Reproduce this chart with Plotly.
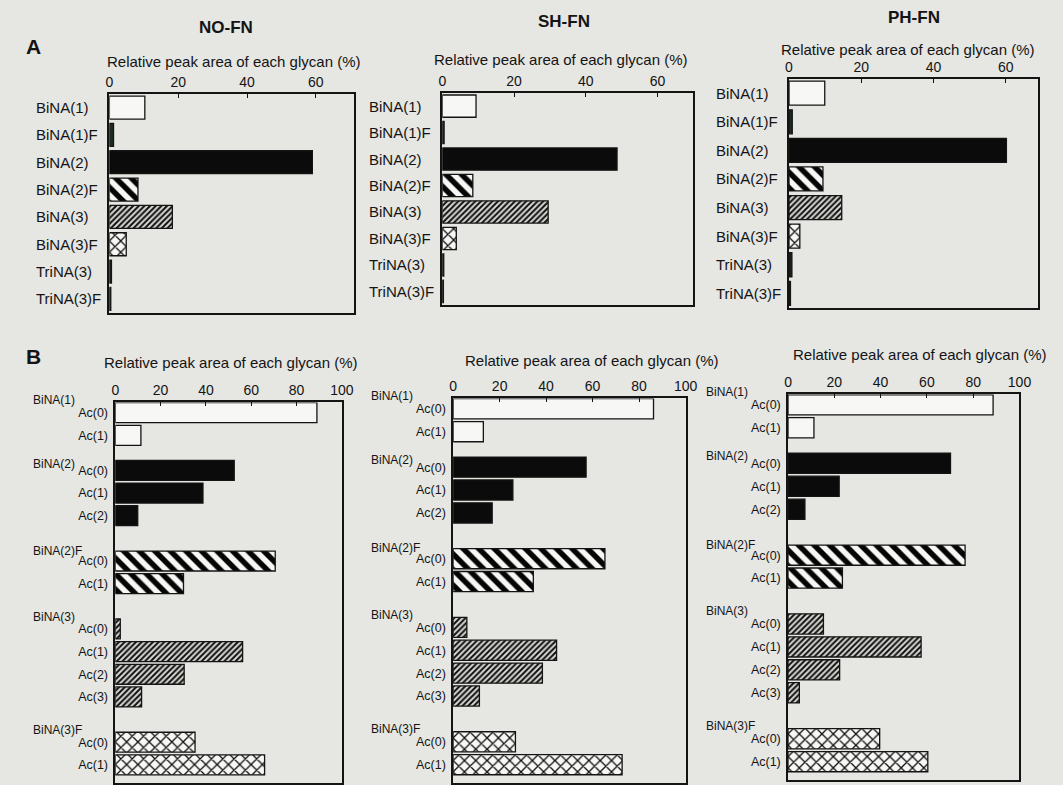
import plotly.graph_objects as go

# ---------------- data ----------------
A_categories = ["BiNA(1)", "BiNA(1)F", "BiNA(2)", "BiNA(2)F", "BiNA(3)", "BiNA(3)F", "TriNA(3)", "TriNA(3)F"]
A_no_fn = [10.3, 1.2, 59.0, 8.3, 18.3, 4.9, 0.6, 0.4]
A_sh_fn = [9.4, 0.5, 48.7, 8.5, 29.5, 3.9, 0.4, 0.3]
A_ph_fn = [9.9, 0.9, 60.2, 9.4, 14.6, 3.0, 0.8, 0.4]
A_ticks = [0, 20, 40, 60]

B_groups = ["BiNA(1)", "BiNA(2)", "BiNA(2)F", "BiNA(3)", "BiNA(3)F"]
B_ac_labels = [["Ac(0)", "Ac(1)"],
               ["Ac(0)", "Ac(1)", "Ac(2)"],
               ["Ac(0)", "Ac(1)"],
               ["Ac(0)", "Ac(1)", "Ac(2)", "Ac(3)"],
               ["Ac(0)", "Ac(1)"]]
B_no_fn = [89.0, 11.3, 52.5, 38.7, 9.9, 70.6, 30.1, 2.2, 56.2, 30.4, 11.6, 35.2, 65.9]
B_sh_fn = [86.2, 13.0, 57.2, 25.7, 16.8, 65.3, 34.5, 5.9, 44.5, 38.4, 11.3, 26.8, 72.7]
B_ph_fn = [88.6, 11.2, 70.2, 22.1, 7.3, 76.5, 23.5, 15.3, 57.5, 22.3, 4.9, 39.6, 60.4]
B_ticks = [0, 20, 40, 60, 80, 100]

panel_titles = ["NO-FN", "SH-FN", "PH-FN"]
axis_title = "Relative peak area of each glycan (%)"

# ---------------- styles ----------------
W, H = 1063, 785
BG = "#e6e6e2"
INK = "#141414"
FONT = "Liberation Sans, Arial, sans-serif"

STYLE = {
    "BiNA(1)":   dict(shape="", fg=INK, bg="#f7f7f5", size=8, sol=0.3),
    "BiNA(1)F":  dict(shape="", fg=INK, bg="#1d2b24", size=8, sol=0.3),
    "BiNA(2)":   dict(shape="", fg=INK, bg="#0b0b0b", size=8, sol=0.3),
    "BiNA(2)F":  dict(shape="\\", fg="#050505", bg="#f7f7f5", size=11, sol=0.5),
    "BiNA(3)":   dict(shape="/", fg="#101010", bg="#d8d8d4", size=4, sol=0.5),
    "BiNA(3)F":  dict(shape="x", fg="#101010", bg="#f7f7f5", size=8, sol=0.3),
    "TriNA(3)":  dict(shape="", fg=INK, bg="#1d1d1d", size=8, sol=0.3),
    "TriNA(3)F": dict(shape="", fg=INK, bg="#1d1d1d", size=8, sol=0.3),
}

# panel boxes in pixels: left, right, top, bottom
A_boxes = [(107, 355, 94, 313), (445, 700, 93, 305), (797, 1050, 79, 308)]
A_xmax = [71, 70, 69]
A_title_off = [(-6, 66), (-4, 71), (0, 61)]
A_axtitle_off = [(2, 32), (-7, 33), (-6, 29)]

B_boxes = [(113, 343, 403, 784), (456, 692, 399, 784), (796, 1031, 395, 781)]
B_yrange = [16.35, -0.45]
B_axtitle_off = [(2, 40), (22, 38), (16, 40)]
B_group_gaps = [0.55, 1.0, 1.0, 1.0]
B_label_dy = [0.55, 0.3, 0.45, 0.55, 0.55]  # rows above the Ac(0) bar


def dom(box):
    l, r, t, b = box
    return [l / W, r / W], [1 - b / H, 1 - t / H]


fig = go.Figure()
annotations = []
layout = {}


def add_bars(idx, xs, ys, kinds, width):
    sfx = "" if idx == 1 else str(idx)
    order = []
    for k in kinds:
        if k not in order:
            order.append(k)
    for k in order:
        s = STYLE[k]
        sel = [i for i, kk in enumerate(kinds) if kk == k]
        if s["shape"]:
            pattern = dict(shape=s["shape"], fgcolor=s["fg"], bgcolor=s["bg"],
                           size=s["size"], solidity=s["sol"], fillmode="replace")
        else:
            pattern = dict(shape="")
        fig.add_trace(go.Bar(
            x=[xs[i] for i in sel], y=[ys[i] for i in sel], orientation="h", width=width,
            xaxis="x" + sfx, yaxis="y" + sfx, name=k,
            marker=dict(color=s["bg"], line=dict(color=INK, width=1.3), pattern=pattern),
            showlegend=False, hoverinfo="x+y",
        ))


def axis_common(xd, yd, anchor_x, anchor_y):
    xa = dict(domain=xd, anchor=anchor_y, side="top", showline=True, mirror=True,
              linecolor=INK, linewidth=1.5, ticks="inside", ticklen=4, tickcolor=INK,
              tickwidth=1.2, showgrid=False, zeroline=False,
              tickfont=dict(family=FONT, size=14, color=INK))
    ya = dict(domain=yd, anchor=anchor_x, showline=True, mirror=True, linecolor=INK,
              linewidth=1.5, ticks="", showgrid=False, zeroline=False)
    return xa, ya


all_A = [A_no_fn, A_sh_fn, A_ph_fn]
for i in range(3):
    idx = i + 1
    sfx = "" if idx == 1 else str(idx)
    xd, yd = dom(A_boxes[i])
    xa, ya = axis_common(xd, yd, "x" + sfx, "y" + sfx)
    xa.update(range=[0, A_xmax[i]], tickvals=A_ticks)
    ya.update(type="category", categoryorder="array", categoryarray=A_categories,
              autorange="reversed", showticklabels=False)
    layout["xaxis" + sfx] = xa
    layout["yaxis" + sfx] = ya
    add_bars(idx, all_A[i], A_categories, A_categories, 0.84)
    for c in A_categories:
        annotations.append(dict(xref="x" + sfx + " domain", yref="y" + sfx, x=0, y=c,
                                xshift=-75, xanchor="left", yanchor="middle", showarrow=False,
                                text=c, font=dict(family=FONT, size=15, color=INK)))
    dx, dy = A_title_off[i]
    annotations.append(dict(xref="x" + sfx + " domain", yref="y" + sfx + " domain", x=0.5, y=1,
                            xshift=dx, yshift=dy, xanchor="center", yanchor="middle",
                            showarrow=False, text="<b>" + panel_titles[i] + "</b>",
                            font=dict(family=FONT, size=17, color=INK)))
    dx, dy = A_axtitle_off[i]
    annotations.append(dict(xref="x" + sfx + " domain", yref="y" + sfx + " domain", x=0.5, y=1,
                            xshift=dx, yshift=dy, xanchor="center", yanchor="middle",
                            showarrow=False, text=axis_title,
                            font=dict(family=FONT, size=15, color=INK)))

# B row positions (structural)
B_pos, B_kinds, B_ticktext, B_first = [], [], [], []
cur = 0.0
for gi, labels in enumerate(B_ac_labels):
    B_first.append(cur)
    for j, lab in enumerate(labels):
        B_pos.append(cur + j)
        B_kinds.append(B_groups[gi])
        B_ticktext.append(lab)
    cur += len(labels) + (B_group_gaps[gi] if gi < len(B_group_gaps) else 0)

all_B = [B_no_fn, B_sh_fn, B_ph_fn]
for i in range(3):
    idx = i + 4
    sfx = str(idx)
    xd, yd = dom(B_boxes[i])
    xa, ya = axis_common(xd, yd, "x" + sfx, "y" + sfx)
    xa.update(range=[0, 100], tickvals=B_ticks)
    ya.update(range=B_yrange, tickvals=B_pos, ticktext=B_ticktext,
              ticklabelstandoff=3, tickfont=dict(family=FONT, size=12.5, color=INK))
    layout["xaxis" + sfx] = xa
    layout["yaxis" + sfx] = ya
    add_bars(idx, all_B[i], B_pos, B_kinds, 0.88)
    row_px = (B_boxes[i][3] - B_boxes[i][2]) / abs(B_yrange[0] - B_yrange[1])
    for gi, g in enumerate(B_groups):
        annotations.append(dict(xref="x" + sfx + " domain", yref="y" + sfx, x=0,
                                y=B_first[gi], xshift=-84, yshift=B_label_dy[gi] * row_px,
                                xanchor="left", yanchor="middle", showarrow=False, text=g,
                                font=dict(family=FONT, size=12, color=INK)))
    dx, dy = B_axtitle_off[i]
    annotations.append(dict(xref="x" + sfx + " domain", yref="y" + sfx + " domain", x=0.5, y=1,
                            xshift=dx, yshift=dy, xanchor="center", yanchor="middle",
                            showarrow=False, text=axis_title,
                            font=dict(family=FONT, size=15, color=INK)))

# panel letters
annotations.append(dict(xref="paper", yref="paper", x=20 / W, y=1 - 33 / H, showarrow=False,
                        text="<b>A</b>", font=dict(family=FONT, size=21, color=INK)))
annotations.append(dict(xref="paper", yref="paper", x=20 / W, y=1 - 357 / H, showarrow=False,
                        text="<b>B</b>", font=dict(family=FONT, size=21, color=INK)))

fig.update_layout(
    width=W, height=H, autosize=False,
    margin=dict(l=0, r=0, t=0, b=0),
    paper_bgcolor=BG, plot_bgcolor=BG,
    font=dict(family=FONT, color=INK),
    annotations=annotations,
    bargap=0.1,
    **layout,
)

fig.write_html(
    "out.html",
    config={"displayModeBar": False},
    post_script="document.body.style.margin='0';document.body.style.background='" + BG + "';",
)
